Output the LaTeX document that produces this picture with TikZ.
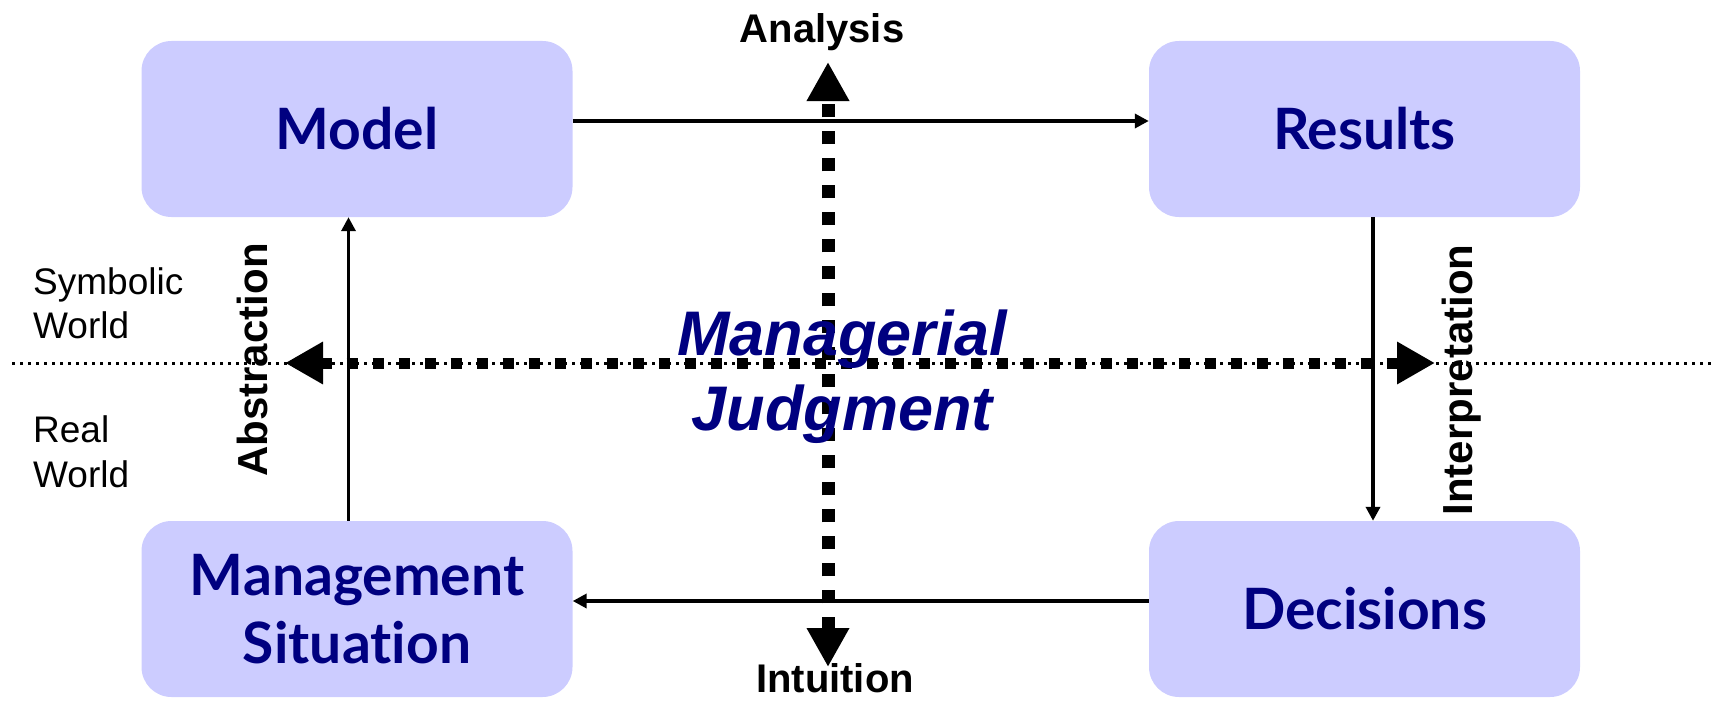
\documentclass[tikz,border=0pt]{standalone}
\usepackage{fontspec}
\setmainfont{Liberation Sans}
\newfontfamily\boxfont[Ligatures={NoCommon,NoRare}]{Lato}
\usetikzlibrary{arrows.meta}
\definecolor{boxfill}{HTML}{CCCCFF}
\definecolor{navyblue}{HTML}{000080}
\begin{document}
\begin{tikzpicture}[x=1pt,y=-1pt,
  box/.style={fill=boxfill, rounded corners=30pt, minimum width=431pt, minimum height=176pt,
    inner sep=0pt, text=navyblue, align=center,
    font=\boxfont\bfseries\fontsize{57}{68}\selectfont},
  conn/.style={line width=3.5pt, -{Triangle[length=14pt,width=14pt]}},
  worldline/.style={line width=3pt, dash pattern=on 3pt off 5pt},
  hjudge/.style={line width=11pt, dash pattern=on 11pt off 15pt,
    {Triangle[length=38pt,width=40pt]}-{Triangle[length=38pt,width=40pt]}},
  vjudge/.style={line width=13pt, dash pattern=on 13pt off 14pt,
    {Triangle[length=39pt,width=40pt]}-{Triangle[length=39pt,width=40pt]}},
  axislabel/.style={inner sep=0pt, font=\bfseries\fontsize{40}{48}\selectfont},
  sidelabel/.style={inner sep=0pt, rotate=90, anchor=base, font=\bfseries\fontsize{42}{50}\selectfont},
  worldlabel/.style={inner sep=0pt, anchor=base west, font=\fontsize{37}{45}\selectfont},
  judgelabel/.style={inner sep=0pt, anchor=base, text=navyblue, font=\bfseries\itshape\fontsize{63}{75}\selectfont}
]
\useasboundingbox (0,0) rectangle (1712,701);

% boxes
\node[box] (model) at (357,129) {Model};
\node[box] (results) at (1364.5,129) {Results};
\node[box] (mgmt) at (357,609) {Management\\Situation};
\node[box] (decisions) at (1364.5,609) {Decisions};

% world dividing line
\coordinate (wl) at (12,363);
\coordinate (wr) at (1712,363);
\draw[worldline] (wl) -- (wr);

% managerial judgment axes
\coordinate (hl) at (285,363);
\coordinate (hr) at (1435,363);
\coordinate (vt) at (828,62);
\coordinate (vb) at (828,667);
\draw[hjudge] (hl) -- (hr);
\draw[vjudge] (vb) -- (vt);

% cycle connectors
\draw[conn] ([yshift=8pt]model.east) -- ([yshift=8pt]results.west);
\draw[conn] ([xshift=8.5pt]results.south) -- ([xshift=8.5pt]decisions.north);
\draw[conn] ([yshift=8pt]decisions.west) -- ([yshift=8pt]mgmt.east);
\draw[conn] ([xshift=-8.5pt]mgmt.north) -- ([xshift=-8.5pt]model.south);

% labels
\node[axislabel, anchor=base] (analysis) at (822,42) {Analysis};
\node[axislabel, anchor=base] (intuition) at (835,692) {Intuition};
\node[sidelabel] (abstraction) at (267,360) {Abstraction};
\node[sidelabel] (interpretation) at (1472,380) {Interpretation};
\node[worldlabel] (sym1) at (33,294) {Symbolic};
\node[worldlabel] (sym2) at (33,338) {World};
\node[worldlabel] (real1) at (33,442) {Real};
\node[worldlabel] (real2) at (33,487) {World};
\node[judgelabel] (mj1) at (842,355) {Managerial};
\node[judgelabel] (mj2) at (842,430) {Judgment};
\end{tikzpicture}
\end{document}
